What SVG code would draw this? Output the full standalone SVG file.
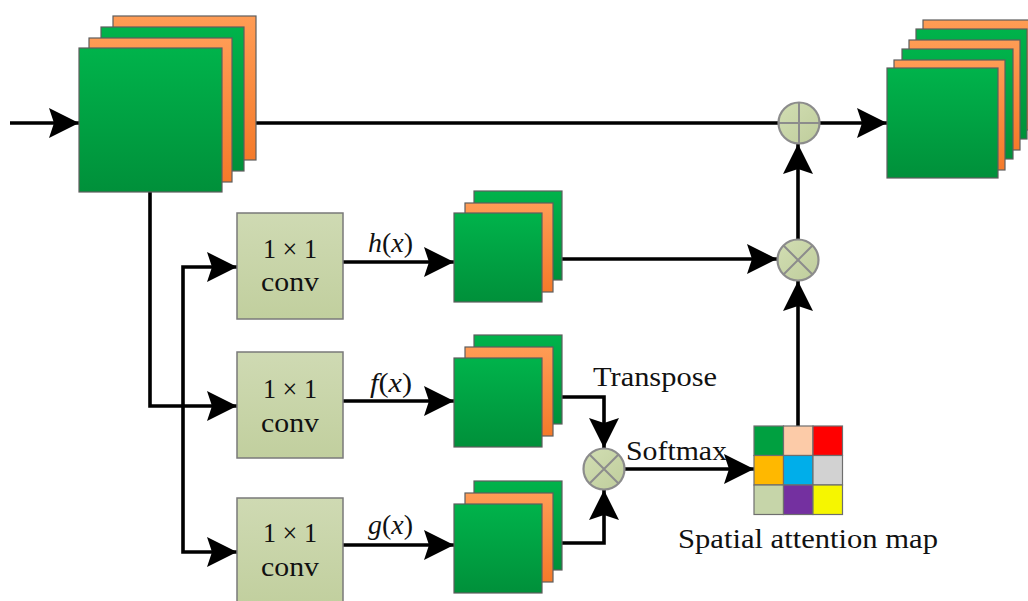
<svg xmlns="http://www.w3.org/2000/svg" width="1028" height="601" viewBox="0 0 1028 601">
<defs>
<linearGradient id="gG" x1="0" y1="0" x2="0" y2="1"><stop offset="0" stop-color="#00B34B"/><stop offset="1" stop-color="#00903A"/></linearGradient>
<linearGradient id="gO" x1="0" y1="0" x2="0" y2="1"><stop offset="0" stop-color="#FF9C55"/><stop offset="1" stop-color="#F47A2A"/></linearGradient>
<linearGradient id="gC" x1="0" y1="0" x2="0" y2="1"><stop offset="0" stop-color="#CFDAB3"/><stop offset="1" stop-color="#C1CF9E"/></linearGradient>
<linearGradient id="gK" x1="0" y1="0" x2="1" y2="1"><stop offset="0" stop-color="#D2DEB3"/><stop offset="1" stop-color="#BFCD9C"/></linearGradient>
<marker id="ah" viewBox="0 0 30 30" markerWidth="30" markerHeight="30" refX="30" refY="15" orient="auto" markerUnits="userSpaceOnUse">
<path d="M0,0 L30,15 L0,30 L5,15 Z" fill="#000"/>
</marker>
<style>
.g{fill:url(#gG);stroke:#5E5E5E;stroke-width:1.2}
.o{fill:url(#gO);stroke:#5E5E5E;stroke-width:1.2}
.cv{fill:url(#gC);stroke:#7A7A7A;stroke-width:1.5}
.op{fill:url(#gK);stroke:#8C8C8C;stroke-width:2.2}
.ol{stroke:#8C8C8C;stroke-width:2}
.ln{fill:none;stroke:#000;stroke-width:3.6;stroke-linejoin:miter}
.ar{marker-end:url(#ah)}
.t{font-family:"Liberation Serif","Times New Roman",serif;font-size:28px;fill:#111}
.i{font-style:italic}
.cell{stroke:#6E6E6E;stroke-width:1.2}
</style>
</defs>
<rect width="1028" height="601" fill="#fff"/>

<g id="connectors">
<path class="ln ar" d="M10,123 H79"/>
<path class="ln" d="M256,123 H778"/>
<path class="ln ar" d="M819,123 H887"/>
<path class="ln ar" d="M798,239 V144"/>
<path class="ln ar" d="M798,426 V281"/>
<path class="ln ar" d="M562,259 H777"/>
<path class="ln ar" d="M150,192 V406 H237"/>
<path class="ln ar" d="M183,406 V267 H237"/>
<path class="ln ar" d="M183,406 V552 H237"/>
<path class="ln ar" d="M343,262 H454"/>
<path class="ln ar" d="M343,401 H454"/>
<path class="ln ar" d="M343,545 H454"/>
<path class="ln ar" d="M562,397 H604 V448"/>
<path class="ln ar" d="M562,543 H604 V490"/>
<path class="ln ar" d="M625,469 H754"/>
</g>

<g id="input-stack">
<rect class="o" x="113" y="16" width="143" height="144"/>
<rect class="g" x="101" y="27" width="143" height="144"/>
<rect class="o" x="89" y="38" width="143" height="144"/>
<rect class="g" x="79" y="48" width="143" height="144"/>
</g>

<g id="output-stack">
<rect class="o" x="923" y="20" width="111" height="110"/>
<rect class="g" x="916" y="29" width="111" height="110"/>
<rect class="o" x="909" y="40" width="111" height="110"/>
<rect class="g" x="902" y="49" width="111" height="110"/>
<rect class="o" x="894" y="60" width="111" height="110"/>
<rect class="g" x="887" y="68" width="111" height="110"/>
</g>

<g id="conv-h">
<rect class="cv" x="237" y="213" width="106" height="106"/>
<text class="t" x="290" y="258" text-anchor="middle" textLength="54" lengthAdjust="spacingAndGlyphs">1 × 1</text>
<text class="t" x="290" y="291" text-anchor="middle" textLength="58" lengthAdjust="spacingAndGlyphs">conv</text>
</g>
<g id="conv-f">
<rect class="cv" x="237" y="352" width="106" height="106"/>
<text class="t" x="290" y="398" text-anchor="middle" textLength="54" lengthAdjust="spacingAndGlyphs">1 × 1</text>
<text class="t" x="290" y="432" text-anchor="middle" textLength="58" lengthAdjust="spacingAndGlyphs">conv</text>
</g>
<g id="conv-g">
<rect class="cv" x="237" y="498" width="106" height="108"/>
<text class="t" x="290" y="542" text-anchor="middle" textLength="54" lengthAdjust="spacingAndGlyphs">1 × 1</text>
<text class="t" x="290" y="576" text-anchor="middle" textLength="58" lengthAdjust="spacingAndGlyphs">conv</text>
</g>

<g id="label-h"><text class="t" x="368" y="252" textLength="45" lengthAdjust="spacingAndGlyphs"><tspan class="i">h</tspan>(<tspan class="i">x</tspan>)</text></g>
<g id="label-f"><text class="t" x="370" y="392" textLength="42" lengthAdjust="spacingAndGlyphs"><tspan class="i">f</tspan>(<tspan class="i">x</tspan>)</text></g>
<g id="label-g"><text class="t" x="368" y="534" textLength="45" lengthAdjust="spacingAndGlyphs"><tspan class="i">g</tspan>(<tspan class="i">x</tspan>)</text></g>

<g id="stack-h">
<rect class="g" x="474" y="191" width="88" height="89"/>
<rect class="o" x="465" y="203" width="88" height="89"/>
<rect class="g" x="454" y="213" width="88" height="89"/>
</g>
<g id="stack-f">
<rect class="g" x="474" y="335" width="88" height="89"/>
<rect class="o" x="465" y="347" width="88" height="89"/>
<rect class="g" x="454" y="358" width="88" height="89"/>
</g>
<g id="stack-g">
<rect class="g" x="474" y="481" width="88" height="89"/>
<rect class="o" x="465" y="493" width="88" height="89"/>
<rect class="g" x="454" y="504" width="88" height="89"/>
</g>

<g id="plus-op">
<circle class="op" cx="799" cy="123" r="20.5"/>
<path class="ol" d="M778.5,123 H819.5 M799,102.5 V143.5"/>
</g>
<g id="mul-op-top">
<circle class="op" cx="798" cy="260" r="20.5"/>
<path class="ol" d="M783.5,245.5 L812.5,274.5 M812.5,245.5 L783.5,274.5"/>
</g>
<g id="mul-op-bottom">
<circle class="op" cx="604" cy="469" r="20.5"/>
<path class="ol" d="M589.5,454.5 L618.5,483.5 M618.5,454.5 L589.5,483.5"/>
</g>

<g id="label-transpose"><text class="t" x="593" y="386" textLength="124" lengthAdjust="spacingAndGlyphs">Transpose</text></g>
<g id="label-softmax"><text class="t" x="626" y="460" textLength="101" lengthAdjust="spacingAndGlyphs">Softmax</text></g>

<g id="attention-map">
<rect class="cell" x="754" y="426" width="29.5" height="29.5" fill="#00A040"/>
<rect class="cell" x="783.5" y="426" width="29.5" height="29.5" fill="#FCCBA8"/>
<rect class="cell" x="813" y="426" width="29.5" height="29.5" fill="#FF0000"/>
<rect class="cell" x="754" y="455.5" width="29.5" height="29.5" fill="#FFB800"/>
<rect class="cell" x="783.5" y="455.5" width="29.5" height="29.5" fill="#00AEEA"/>
<rect class="cell" x="813" y="455.5" width="29.5" height="29.5" fill="#D2D2D2"/>
<rect class="cell" x="754" y="485" width="29.5" height="29.5" fill="#C6D5A9"/>
<rect class="cell" x="783.5" y="485" width="29.5" height="29.5" fill="#7430A0"/>
<rect class="cell" x="813" y="485" width="29.5" height="29.5" fill="#F6F600"/>
<text class="t" x="678" y="548" textLength="260" lengthAdjust="spacingAndGlyphs">Spatial attention map</text>
</g>
</svg>
